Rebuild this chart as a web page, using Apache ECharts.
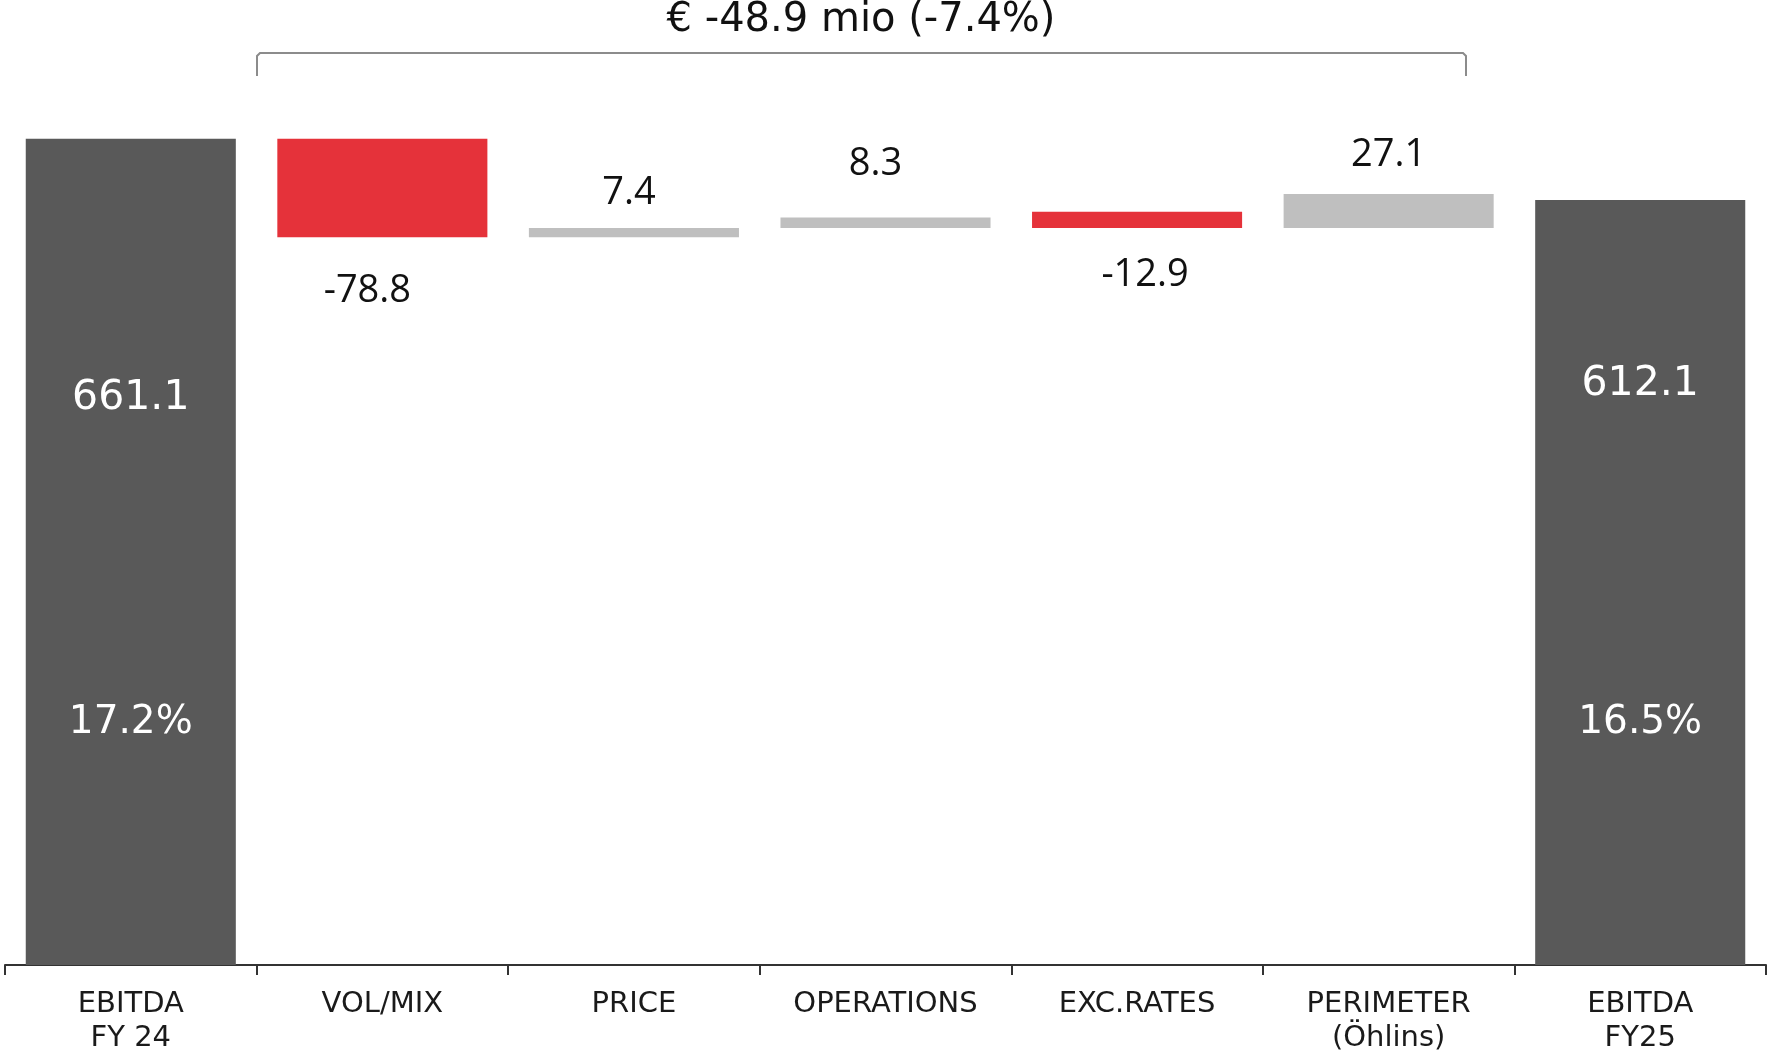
<!DOCTYPE html>
<html>
<head>
<meta charset="utf-8">
<title>EBITDA bridge FY24 - FY25</title>
<script src="https://cdn.jsdelivr.net/npm/echarts@6/dist/echarts.min.js"></script>
<style>
  html, body { margin: 0; padding: 0; background: #ffffff; }
  #chart { width: 1767px; height: 1055px; }
</style>
</head>
<body>
<div id="chart"></div>
<script>
// ---- data (EUR million) ----
const categories = ['EBITDA\nFY 24', 'VOL/MIX', 'PRICE', 'OPERATIONS', 'EXC.RATES', 'PERIMETER\n(Öhlins)', 'EBITDA\nFY25'];
const changes = [661.1, -78.8, 7.4, 8.3, -12.9, 27.1, 612.1];
// lower edge of each floating bar (totals stand on zero)
const barFloor = [0, 582.3, 582.3, 589.7, 589.7, 589.7, 0];
const margins = ['17.2%', null, null, null, null, null, '16.5%'];
const bridgeTitle = '€ -48.9 mio (-7.4%)';

// ---- styling ----
const COLOR_TOTAL = '#595959';
const COLOR_NEG = '#e5323a';
const COLOR_POS = '#bfbfbf';
const WIDE_FONT = 'DejaVu Sans';
const NUM_FONT = 'Open Sans';

// label placement for the two total bars: offset from bar top, gap before margin line
const totalLabelLayout = { 0: { top: 238, gap: 280 }, 6: { top: 162, gap: 295 } };
// label placement for the change bars: distance from bar end, horizontal nudge
const changeLabelLayout = {
  1: { distance: 35, dx: -15 },
  2: { distance: 16, dx: -5 },
  3: { distance: 34, dx: -10 },
  4: { distance: 28, dx: 8 },
  5: { distance: 20, dx: 0 }
};

const lastIdx = changes.length - 1;
const isTotal = i => i === 0 || i === lastIdx;

const floorData = barFloor.map(v => ({ value: v, itemStyle: { color: 'transparent' } }));

const barData = changes.map((v, i) => {
  if (isTotal(i)) {
    const lay = totalLabelLayout[i];
    return {
      value: v,
      itemStyle: { color: COLOR_TOTAL },
      label: {
        show: true,
        position: 'insideTop',
        distance: lay.top,
        formatter: () => '{v|' + v.toFixed(1) + '}\n{g| }\n{p|' + margins[i] + '}',
        rich: {
          v: { fontFamily: WIDE_FONT, fontSize: 41, color: '#ffffff', lineHeight: 44, align: 'center' },
          g: { fontSize: 10, lineHeight: lay.gap },
          p: { fontFamily: WIDE_FONT, fontSize: 39, color: '#ffffff', lineHeight: 44, align: 'center' }
        }
      }
    };
  }
  const lay = changeLabelLayout[i];
  return {
    value: Math.abs(v),
    itemStyle: { color: v < 0 ? COLOR_NEG : COLOR_POS },
    label: {
      show: true,
      position: v < 0 ? 'bottom' : 'top',
      distance: lay.distance,
      offset: [lay.dx, 0],
      formatter: () => v.toFixed(1),
      fontFamily: NUM_FONT,
      fontSize: 38,
      color: '#111111'
    }
  };
});

const chart = echarts.init(document.getElementById('chart'), null, { renderer: 'canvas' });

chart.setOption({
  animation: false,
  backgroundColor: '#ffffff',
  grid: { left: 5, right: 1, top: 90, bottom: 90, containLabel: false, outerBoundsMode: 'none' },
  xAxis: {
    type: 'category',
    data: categories,
    boundaryGap: true,
    axisLine: { show: true, lineStyle: { color: '#333333', width: 2 } },
    axisTick: { show: true, length: 10, alignWithLabel: false, lineStyle: { color: '#333333', width: 2 } },
    axisLabel: {
      interval: 0,
      margin: 22,
      fontFamily: WIDE_FONT,
      fontSize: 29,
      lineHeight: 34,
      color: '#1a1a1a'
    },
    splitLine: { show: false }
  },
  yAxis: {
    type: 'value',
    min: 0,
    max: 700,
    show: false,
    splitLine: { show: false }
  },
  series: [
    {
      name: 'floor',
      type: 'bar',
      stack: 'bridge',
      barWidth: '83.5%',
      silent: true,
      data: floorData
    },
    {
      name: 'EBITDA bridge',
      type: 'bar',
      stack: 'bridge',
      barWidth: '83.5%',
      data: barData
    }
  ],
  graphic: [
    {
      type: 'polyline',
      shape: { points: [[257, 76], [257, 56], [260, 53], [1463, 53], [1466, 56], [1466, 76]] },
      style: { stroke: '#8c8c8c', lineWidth: 2, fill: null },
      silent: true
    },
    {
      type: 'text',
      x: 861,
      y: 21,
      style: {
        text: bridgeTitle,
        fontFamily: WIDE_FONT,
        fontSize: 40,
        fill: '#111111',
        align: 'center',
        verticalAlign: 'middle'
      },
      silent: true
    }
  ]
});
</script>
</body>
</html>
